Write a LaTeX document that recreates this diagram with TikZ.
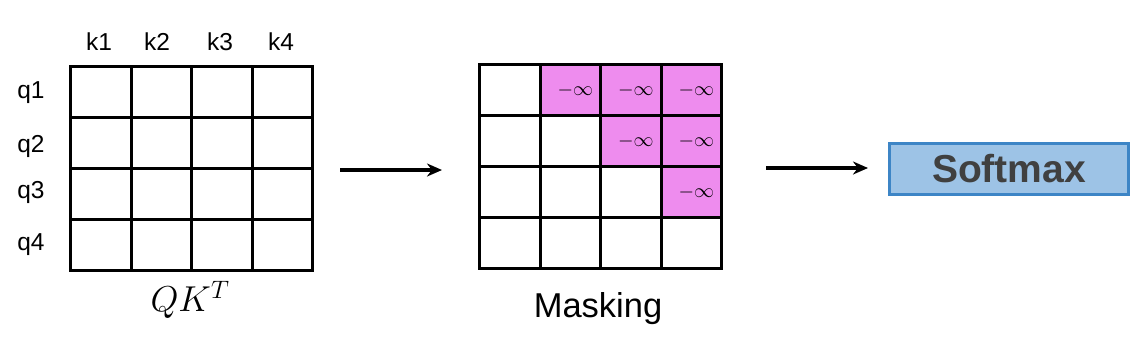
\documentclass[tikz,border=0pt]{standalone}
\usepackage{fix-cm}
\usepackage{fontspec}
\setmainfont{Liberation Sans}
\usetikzlibrary{arrows.meta}
\definecolor{maskpink}{HTML}{EE8CEE}
\definecolor{sfill}{HTML}{9DC3E6}
\definecolor{sborder}{HTML}{3D85C6}
\definecolor{stext}{HTML}{404040}
\begin{document}
\begin{tikzpicture}[x=1pt,y=-1pt,
  cell/.style={draw=black,line width=3.2pt,minimum width=60.5pt,minimum height=51pt,inner sep=0pt,anchor=north west},
  masked/.style={cell,fill=maskpink},
  lab/.style={font=\fontsize{24.5}{28}\selectfont,inner sep=0pt},
  inf/.style={font=\fontsize{20}{24}\selectfont,inner sep=0pt},
  arr/.style={line width=3.2pt,-{Stealth[length=15pt,width=13pt]}}]
\useasboundingbox (0,0) rectangle (1142,349);
% grid 1
\foreach \r in {1,...,4}{
  \foreach \c in {1,...,4}{
    \node[cell] (a\r\c) at ({69+60.5*(\c-1)},{65+51*(\r-1)}) {};
  }
}
\foreach \c/\x in {1/99,2/157,3/220,4/281}{
  \node[lab] (k\c) at (\x,42) {k\c};
}
\foreach \r/\y in {1/93,2/146,3/192,4/245}{
  \node[lab] (q\r) at (31,\y) {q\r};
}
\node[inner sep=0pt,font=\fontsize{36}{40}\selectfont] (qk) at (190,300) {$QK^T$};
% grid 2
\foreach \r in {1,...,4}{
  \foreach \c in {1,...,4}{
    \ifnum\c>\r
      \node[masked] (b\r\c) at ({478+60.5*(\c-1)},{63+51*(\r-1)}) {};
      \node[inf] at ([xshift=5pt]b\r\c.center) {$-\infty$};
    \else
      \node[cell] (b\r\c) at ({478+60.5*(\c-1)},{63+51*(\r-1)}) {};
    \fi
  }
}
\node[inner sep=0pt,font=\fontsize{34.5}{38}\selectfont] (mask) at (598,309) {Masking};
% arrows
\coordinate (a1s) at (340,170);
\coordinate (a1e) at (442,170);
\coordinate (a2s) at (766,168);
\coordinate (a2e) at (868,168);
\draw[arr] (a1s) -- (a1e);
\draw[arr] (a2s) -- (a2e);
% softmax
\node[draw=sborder,fill=sfill,line width=3pt,minimum width=239pt,minimum height=51pt,inner sep=0pt,
  text=stext,font=\fontsize{39}{44}\selectfont\bfseries] (soft) at (1009,168.5) {Softmax};
\end{tikzpicture}
\end{document}
